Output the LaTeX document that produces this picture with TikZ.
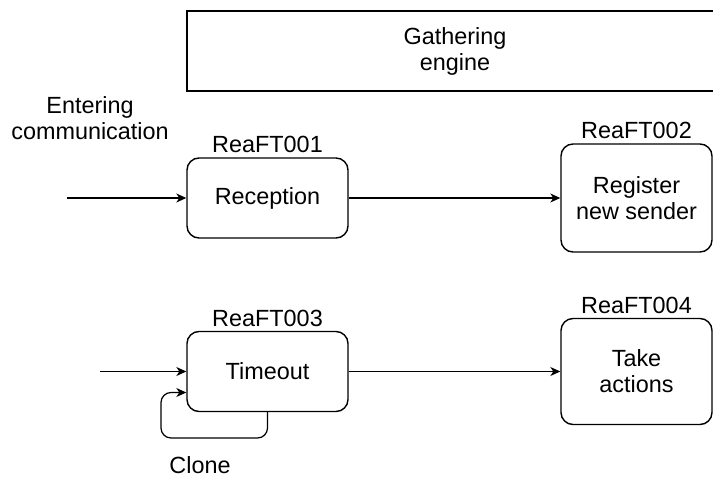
\documentclass[tikz,border=0pt]{standalone}
\usepackage{fontspec}
\setmainfont{Liberation Sans}
\usetikzlibrary{arrows.meta}

\begin{document}
\begin{tikzpicture}[x=0.5pt,y=-0.5pt]

\tikzset{%
  every node/.style = {font=\fontsize{11.7}{13}\selectfont},
  step box/.style   = {draw,rounded corners=6pt,line width=0.7pt,align=center},
  tag/.style        = {inner sep=2pt},
  flow/.style       = {line width=0.6pt,-{Stealth[length=5pt,width=4.5pt,inset=1.5pt]}},
}

\clip (0,0) rectangle (713,477);

% Engine
\node[draw,line width=0.7pt,align=center,minimum width=268pt,minimum height=40pt]
  (engine) at (455,51) {Gathering\\engine};

% Upper row
\node[step box,minimum width=80.5pt,minimum height=40pt,
      label={[tag]above:ReaFT001}] (rec) at (267.5,198) {Reception};
\node[step box,minimum width=75.5pt,minimum height=54pt,
      label={[tag]above:ReaFT002}] (reg) at (636.5,198) {Register\\new sender};

% Lower row
\node[step box,minimum width=80.5pt,minimum height=40pt,
      label={[tag]above:ReaFT003}] (tim) at (267.5,371.5) {Timeout};
\node[step box,minimum width=75.5pt,minimum height=53pt,
      label={[tag]above:ReaFT004}] (act) at (636.5,371.5) {Take\\actions};

% Inputs
\node[align=center] (entry) at (90,118) {Entering\\communication};
\coordinate (recin) at (67,198);
\coordinate (timin) at (100,371.5);
\coordinate (loop)  at (161,438);
\node (clone) at (200,465) {Clone};

\draw[flow] (recin) -- (rec.west);
\draw[flow] (rec.east) -- (reg.west);
\draw[flow] (timin) -- (tim.west);
\draw[flow] (tim.east) -- (act.west);
\draw[flow,rounded corners=5pt] (tim.south) |- (loop) |- ([yshift=-10.5pt]tim.west);

\end{tikzpicture}
\end{document}
